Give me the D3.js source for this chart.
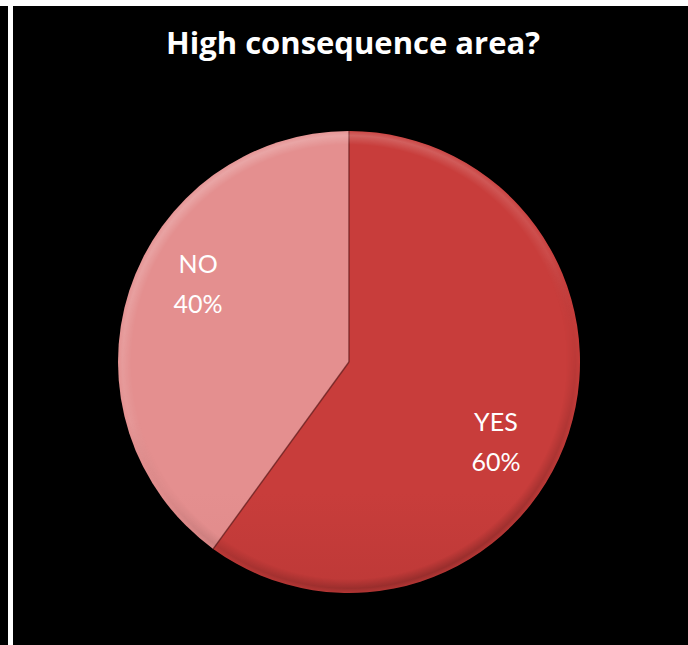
<!DOCTYPE html>
<html>
<head>
<meta charset="utf-8">
<script src="https://cdn.jsdelivr.net/npm/d3@7/dist/d3.min.js"></script>
<style>
  html, body { margin: 0; padding: 0; background: #000; }
  svg { display: block; }
</style>
</head>
<body>
<svg id="chart" width="688" height="645"></svg>
<script>
// Pie data
const categories = ["YES", "NO"];
const values = [60, 40];
const percentLabels = ["60%", "40%"];
const chartTitle = "High consequence area?";

// Slice palette: [top colour, bottom colour]
const palette = {
  YES: ["#c83d3b", "#982a2a"],
  NO:  ["#e48f8f", "#cf7575"]
};

const W = 688, H = 645;
const cx = 349, cy = 362, R = 231;

const svg = d3.select("#chart");

// frame strips
svg.append("rect").attr("x", 0).attr("y", 0).attr("width", W).attr("height", H).attr("fill", "#000");
svg.append("rect").attr("x", 0).attr("y", 0).attr("width", W).attr("height", 6).attr("fill", "#fff");
svg.append("rect").attr("x", 8).attr("y", 6).attr("width", 5).attr("height", H - 6).attr("fill", "#fff");

const defs = svg.append("defs");

categories.forEach(c => {
  const g = defs.append("linearGradient")
    .attr("id", "fill-" + c)
    .attr("gradientUnits", "userSpaceOnUse")
    .attr("x1", cx).attr("y1", cy - R)
    .attr("x2", cx).attr("y2", cy + R);
  g.append("stop").attr("offset", "0%").attr("stop-color", palette[c][0]);
  g.append("stop").attr("offset", "100%").attr("stop-color", palette[c][1]);
});

// bevel ring: light at top, dark at bottom
const bevel = defs.append("linearGradient")
  .attr("id", "bevel")
  .attr("gradientUnits", "userSpaceOnUse")
  .attr("x1", cx - R * 0.4).attr("y1", cy - R)
  .attr("x2", cx + R * 0.4).attr("y2", cy + R);
bevel.append("stop").attr("offset", "0%").attr("stop-color", "#fff").attr("stop-opacity", 0.22);
bevel.append("stop").attr("offset", "45%").attr("stop-color", "#fff").attr("stop-opacity", 0.08);
bevel.append("stop").attr("offset", "60%").attr("stop-color", "#000").attr("stop-opacity", 0.03);
bevel.append("stop").attr("offset", "100%").attr("stop-color", "#000").attr("stop-opacity", 0.22);

const rim = defs.append("radialGradient")
  .attr("id", "rim")
  .attr("gradientUnits", "userSpaceOnUse")
  .attr("cx", cx).attr("cy", cy).attr("r", R);
rim.append("stop").attr("offset", "94%").attr("stop-color", "#fff").attr("stop-opacity", 0);
rim.append("stop").attr("offset", "98%").attr("stop-color", "#fff").attr("stop-opacity", 1);
rim.append("stop").attr("offset", "100%").attr("stop-color", "#fff").attr("stop-opacity", 0.3);

const mask = defs.append("mask").attr("id", "ringMask")
  .attr("maskUnits", "userSpaceOnUse")
  .attr("x", 0).attr("y", 0).attr("width", W).attr("height", H);
mask.append("circle").attr("cx", cx).attr("cy", cy).attr("r", R).attr("fill", "url(#rim)");

const pie = d3.pie().sort(null).value(d => d.value);
const data = categories.map((c, i) => ({ name: c, value: values[i], pct: percentLabels[i] }));
const arcs = pie(data);

const arc = d3.arc().innerRadius(0).outerRadius(R);

const g = svg.append("g").attr("transform", `translate(${cx},${cy})`);

g.selectAll("path.slice")
  .data(arcs)
  .join("path")
  .attr("class", "slice")
  .attr("d", arc)
  .attr("fill", d => `url(#fill-${d.data.name})`);

// rim lighting
svg.append("circle")
  .attr("cx", cx).attr("cy", cy).attr("r", R)
  .attr("fill", "url(#bevel)")
  .attr("mask", "url(#ringMask)");

// slice dividers
g.selectAll("line.divider")
  .data(arcs)
  .join("line")
  .attr("class", "divider")
  .attr("x1", 0).attr("y1", 0)
  .attr("x2", d => R * Math.sin(d.startAngle))
  .attr("y2", d => -R * Math.cos(d.startAngle))
  .attr("stroke", "#6e1f1f")
  .attr("stroke-opacity", 0.75)
  .attr("stroke-width", 1.5);

// slice labels
const labelR = R * 0.73;
const labelShift = 10 * Math.PI / 180;
const labels = g.selectAll("g.label")
  .data(arcs)
  .join("g")
  .attr("class", "label")
  .attr("transform", d => {
    const a = (d.startAngle + d.endAngle) / 2 + labelShift;
    return `translate(${labelR * Math.sin(a)},${-labelR * Math.cos(a)})`;
  });

labels.append("text")
  .attr("text-anchor", "middle")
  .attr("x", -2)
  .attr("y", -10)
  .attr("fill", "#fff")
  .style("font-family", "Lato, 'Open Sans', sans-serif")
  .style("font-size", "25px")
  .text(d => d.data.name);

labels.append("text")
  .attr("text-anchor", "middle")
  .attr("x", -2)
  .attr("y", 30)
  .attr("fill", "#fff")
  .style("font-family", "Lato, 'Open Sans', sans-serif")
  .style("font-size", "25px")
  .text(d => d.data.pct);

// title
svg.append("text")
  .attr("x", 353)
  .attr("y", 54)
  .attr("text-anchor", "middle")
  .attr("fill", "#fff")
  .style("font-family", "'Open Sans', Lato, sans-serif")
  .style("font-weight", "bold")
  .style("font-size", "31px")
  .text(chartTitle);
</script>
</body>
</html>
